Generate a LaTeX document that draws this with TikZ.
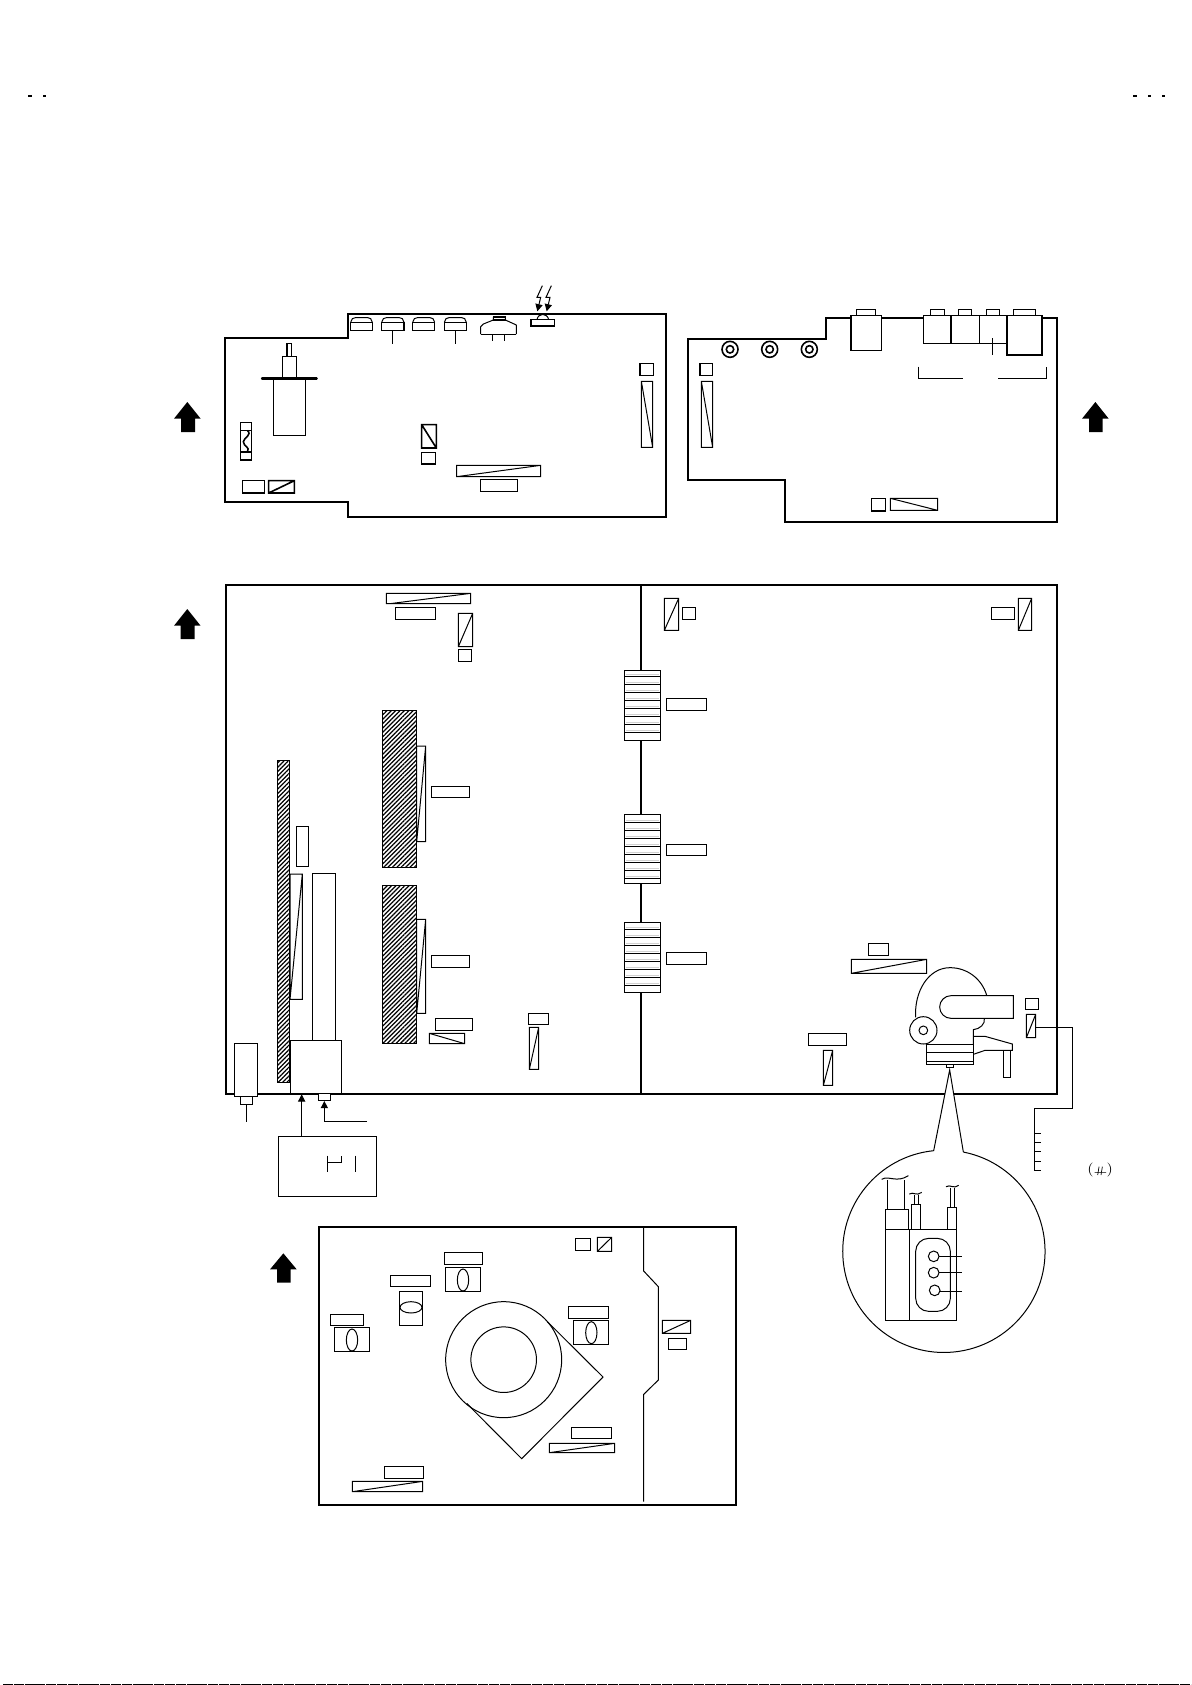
\documentclass[tikz,border=0pt]{standalone}
\usetikzlibrary{arrows.meta,patterns.meta}
\tikzset{
  zm/.style 2 args={shift={({#1*0.5pt},{-#2*0.5pt})},x=0.166667pt,y=-0.166667pt},
  brd/.style={draw=black,line width=1.05pt,line join=miter},
  thk/.style={draw=black,line width=0.8pt},
  thn/.style={draw=black,line width=0.5pt},
  wthk/.style={thk,fill=white},
  wthn/.style={thn,fill=white},
  hatched/.style={thn,pattern={Lines[angle=45,distance=1.55pt,line width=0.62pt]},pattern color=black},
  tipb/.style={-{Triangle[length=3.6pt,width=3.6pt]}},
}
\begin{document}
\begin{tikzpicture}[x=0.5pt,y=-0.5pt]
\useasboundingbox (0,0) rectangle (1191,1685);
\fill[white] (0,0) rectangle (1191,1685);
% page marks
\draw[line width=0.6pt] (28,96)--(32,96) (43,96)--(46,96) (1133,96)--(1137,96) (1148,96)--(1151,96) (1162,96)--(1165,96);
\draw[line width=0.5pt,dash pattern=on 5pt off 0.4pt] (3,1684.4)--(1191,1684.4);

% ---------- top left board
\begin{scope}[zm={160}{270}]
\draw[brd] (195,203)--(563,203)--(563,131)--(1517,131)--(1517,742)--(563,742)--(563,697)--(195,697)--cycle;
\fill[black] (82,396)--(122,446)--(105,446)--(105,486)--(63,486)--(63,446)--(42,446)--cycle;
\foreach \a/\b in {572/637,665/732,758/824,853/919}{
  \draw[thn] (\a,157)--(\a+5,146)--(\a+14,143)--(\b-14,143)--(\b-5,146)--(\b,157);
  \draw[wthk] (\a,157) rectangle (\b,181);
}
\draw[thn] (697,181)--(697,222) (886,181)--(886,222);
\draw[thn,line join=round] (962,192)--(962,170)--(970,162)--(1000,150)--(1000,141)--(1036,141)--(1036,150)--(1069,165)--(1069,192);
\draw[thn] (962,192)--(1069,192) (997,192)--(997,214) (1033,192)--(1033,214);
\draw[thk] (1000,141) rectangle (1036,150);
\draw[thn] (1131,149) .. controls (1134,128) and (1162,128) .. (1166,149);
\draw[wthk] (1113,149) rectangle (1183,168);
\draw[thn,tipb] (1147,47)--(1131,82)--(1142,82)--(1132,124);
\draw[thn,tipb] (1174,47)--(1158,82)--(1170,82)--(1160,124);
\draw[thk] (381,220) rectangle (395,260) (367,260) rectangle (409,325) (341,325) rectangle (436,497);
\draw[line width=1.2pt,line cap=round] (306,325)--(470,325);
\draw[thk] (242,458) rectangle (275,570) (242,481)--(275,481) (242,546)--(275,546);
\draw[thk] (262,481) .. controls (278,495) and (250,505) .. (250,515) .. controls (250,530) and (272,530) .. (262,546);
\draw[thk] (785,464) rectangle (829,534) (785,464)--(829,534);
\draw[thk] (785,548) rectangle (826,582);
\draw[thn] (890,586) rectangle (1142,620) (890,620)--(1142,586);
\draw[thn] (961,628) rectangle (1073,665);
\draw[thk] (248,632) rectangle (313,669);
\draw[thk] (326,632) rectangle (403,669) (326,669)--(403,632);
\draw[thk] (1440,281) rectangle (1480,316);
\draw[thn] (1444,334) rectangle (1478,532) (1444,334)--(1478,532);
\end{scope}

% ---------- top right board
\begin{scope}[zm={670}{270}]
\draw[brd] (53,207)--(468,207)--(468,145)--(1161,145)--(1161,755)--(344,755)--(344,630)--(53,630)--cycle;
\fill[black] (1276,396)--(1316,446)--(1298,446)--(1298,486)--(1257,486)--(1257,446)--(1236,446)--cycle;
\draw[wthk] (559,119) rectangle (617,137);
\draw[wthk] (543,137) rectangle (634,241);
\draw[wthk] (782,119) rectangle (824,137);
\draw[wthk] (866,119) rectangle (905,137);
\draw[wthk] (950,119) rectangle (989,137);
\draw[wthk] (1031,119) rectangle (1097,137);
\draw[wthk] (761,137) rectangle (843,221);
\draw[wthk] (845,137) rectangle (928,221);
\draw[wthk] (929,137) rectangle (1011,221);
\draw[wthk] (1011,137) rectangle (1116,255);
\draw[thn] (967,205)--(967,256);
\draw[thn] (746,290)--(746,325)--(878,325) (985,325)--(1130,325)--(1130,290);
\foreach \a in {180,299,418}{
  \draw[thk] (\a,238) circle[radius=4pt];
  \draw[thk] (\a,238) circle[radius=1.85pt];
}
\draw[thk] (90,281) rectangle (127,316);
\draw[thn] (94,334) rectangle (128,532) (94,334)--(128,532);
\draw[thk] (605,686) rectangle (646,723);
\draw[thn] (661,685) rectangle (803,721) (661,685)--(803,721);
\end{scope}

% ---------- main board
\draw[brd] (226,585) rectangle (1057,1093.7);
\draw[brd] (641,585)--(641,1093.7);
\begin{scope}[shift={(187.3,609)}]
\fill[black] (0,0)--(13.3,16.7)--(7.3,16.7)--(7.3,30)--(-6.7,30)--(-6.7,16.7)--(-13.3,16.7)--cycle;
\end{scope}
\begin{scope}[zm={360}{580}]
\draw[thn] (79,40) rectangle (332,71) (90,71)--(332,40);
\draw[thn] (106,82) rectangle (227,119);
\draw[thn] (295,100) rectangle (338,200) (295,200)--(338,100);
\draw[thn] (295,208) rectangle (335,245);
\draw[thn] (913,55) rectangle (956,151) (913,151)--(956,55);
\draw[thn] (967,82) rectangle (1007,119);
\draw[hatched] (67,391) rectangle (170,862);
\draw[thn] (170,498) rectangle (197,785) (197,498)--(170,785);
\draw[thn] (214,619) rectangle (329,653);
\draw[wthn] (793,271) rectangle (902,481);
\foreach \y in {289,313,337,361,385,409,433,457}{
  \draw[black!18,line width=0.3pt] (797,\y-5)--(898,\y-5);
  \draw[thn] (793,\y)--(902,\y);
}
\draw[thn] (919,355) rectangle (1040,392);
\end{scope}
\begin{scope}[zm={960}{580}]
\draw[thn] (94,82) rectangle (164,119);
\draw[thn] (175,55) rectangle (215,151) (175,151)--(215,55);
\end{scope}
\begin{scope}[zm={600}{780}]
\draw[wthn] (73,103) rectangle (182,311);
\foreach \y in {127,151,175,199,223,247,271,295}{
  \draw[black!18,line width=0.3pt] (77,\y-5)--(178,\y-5);
  \draw[thn] (73,\y)--(182,\y);
}
\draw[thn] (199,193) rectangle (320,227);
\draw[wthn] (73,427) rectangle (182,637);
\foreach \y in {448,472,496,520,544,568,592,616}{
  \draw[black!18,line width=0.3pt] (77,\y-5)--(178,\y-5);
  \draw[thn] (73,\y)--(182,\y);
}
\draw[thn] (199,517) rectangle (320,553);
\end{scope}
\begin{scope}[zm={260}{740}]
\draw[hatched] (53,62) rectangle (88,1027);
\draw[thn] (109,260) rectangle (145,380);
\draw[thn] (90,402) rectangle (127,778) (127,402)--(90,778);
\draw[thn] (157,400) rectangle (226,901);
\end{scope}
\begin{scope}[zm={170}{880}]
\draw[hatched] (637,16) rectangle (740,490);
\draw[thn] (740,118) rectangle (767,400) (767,118)--(740,400);
\draw[thn] (784,226) rectangle (899,263);
\draw[thn] (796,415) rectangle (908,452);
\draw[thn] (778,460) rectangle (884,491) (778,460)--(884,491);
\draw[thn] (1075,400) rectangle (1136,434);
\draw[thn] (1078,442) rectangle (1106,568) (1106,442)--(1078,568);
\draw[wthn] (361,481) rectangle (515,641);
\draw[wthn] (193,490) rectangle (263,650);
\draw[wthn] (211,650) rectangle (248,674);
\draw[thn] (229,674)--(229,726);
\draw[wthn] (446,641) rectangle (482,662);
\draw[thn,tipb] (395,769)--(395,643);
\draw[thn,tipb] (591,724)--(463,724)--(463,663);
\draw[thn] (325,769) rectangle (620,949);
\draw[thn] (472,827)--(472,876) (472,847)--(515,847)--(515,827) (556,827)--(556,876);
\end{scope}

\begin{scope}[zm={800}{920}]
\draw[thn] (205,70) rectangle (266,107);
\draw[thn] (154,118) rectangle (380,160) (154,160)--(380,118);
\draw[thn] (25,340) rectangle (140,377);
\draw[thn] (70,391) rectangle (98,496) (70,496)--(98,391);
\draw[thn] (676,235) rectangle (716,269);
\draw[thn] (679,283) rectangle (707,353) (679,353)--(707,283);
\draw[thn] (707,321)--(817,321)--(817,564)--(702,564)--(702,751)--(724,751);
\draw[thn] (702,639)--(724,639) (702,667)--(724,667) (702,695)--(724,695) (702,723)--(724,723);
% symbol in parentheses
\node[inner sep=0pt,font=\fontsize{7pt}{7pt}\selectfont] (paren) at (900,751) {(\hspace{6.5pt})};
\draw[line width=0.35pt] (884,757)--(918,757) (897,740)--(893,765) (907,740)--(903,765);
% head shape
\draw[thn] (553,295) .. controls (556,312) and (540,327) .. (520,329) -- (520,373);
\draw[thn] (347,292) .. controls (342,215) and (385,143) .. (450,143) .. controls (500,143) and (545,175) .. (560,226);
\draw[thn] (640,227)--(453,227) arc[start angle=90,end angle=270,radius=5.67pt]--(640,295)--cycle;
\draw[wthn] (370,331) circle[radius=6.83pt];
\draw[thn] (370,331) circle[radius=2.17pt];
\draw[thn] (520,349)--(555,349)--(637,372)--(637,391)--(555,391)--(520,403);
\draw[thn] (611,391) rectangle (632,473);
\draw[thn] (380,373) rectangle (521,432) (380,397)--(521,397) (380,425)--(521,425);
\draw[thn] (439,433) rectangle (461,442);
% callout
\draw[wthn] (490,696)--(449,450)--(401,692) arc[start angle=95.8,end angle=438.9,radius=50.58pt];
% inside callout
\draw[thn] (256,928) rectangle (328,1201) (328,928) rectangle (469,1201);
\draw[thn] (256,868) rectangle (324,928);
\draw[thn] (262,780)--(262,868) (314,780)--(314,868);
\draw[thn] (245,778) .. controls (265,765) and (290,790) .. (325,767);
\draw[thn] (333,853) rectangle (361,928);
\draw[thn] (342,826)--(342,853) (354,826)--(354,853);
\draw[thn] (328,822) .. controls (340,814) and (350,830) .. (365,817);
\draw[thn] (443,861) rectangle (469,928);
\draw[thn] (451,803)--(451,861) (463,803)--(463,861);
\draw[thn] (438,800) .. controls (450,792) and (462,808) .. (476,796);
\draw[thn,rounded corners=6.5pt] (347,955) rectangle (451,1174);
\draw[thn] (401,1009) circle[radius=2.67pt];
\draw[thn] (401,1058) circle[radius=2.67pt];
\draw[thn] (404,1111) circle[radius=2.67pt];
\draw[thn] (417,1009)--(486,1009) (417,1057)--(486,1057) (420,1113)--(486,1113);
\end{scope}

% ---------- bottom board
\begin{scope}[zm={260}{1210}]
\fill[black] (70,130)--(110,178)--(92,178)--(92,218)--(51,218)--(51,178)--(30,178)--cycle;
\draw[brd] (177,51) rectangle (1428,884);
\draw[thn] (1151,51)--(1151,183)--(1195,230)--(1195,510)--(1151,553)--(1151,875);
\draw[thn] (946,85) rectangle (992,122);
\draw[thn] (1012,82) rectangle (1055,124) (1012,124)--(1055,82);
\draw[thn] (553,127) rectangle (667,164);
\draw[thn] (556,172) rectangle (661,243);
\draw[thn] (609,210) ellipse[x radius=2.83pt,y radius=5.5pt];
\draw[thn] (391,196) rectangle (512,230);
\draw[thn] (418,244) rectangle (488,346);
\draw[thn] (453,292) ellipse[x radius=5.5pt,y radius=2.83pt];
\draw[thn] (211,313) rectangle (311,347);
\draw[thn] (223,352) rectangle (328,424);
\draw[thn] (276,390) ellipse[x radius=2.83pt,y radius=5.5pt];
\draw[thn] (925,289) rectangle (1046,326);
\draw[thn] (939,332) rectangle (1045,403);
\draw[thn] (994,368) ellipse[x radius=2.83pt,y radius=5.5pt];
\draw[thn] (1207,331) rectangle (1292,370) (1207,370)--(1292,331);
\draw[thn] (1225,385) rectangle (1280,418);
\draw[thn] (731,449) circle[radius=29pt];
\draw[thn] (731,449) circle[radius=16.4pt];
\draw[thn] (862,335)--(1029,501)--(785,746)--(620,580);
\draw[thn] (934,652) rectangle (1055,686);
\draw[thn] (868,700) rectangle (1064,728) (868,728)--(1064,700);
\draw[thn] (373,769) rectangle (491,806);
\draw[thn] (277,814) rectangle (488,845) (277,845)--(488,814);
\end{scope}
\end{tikzpicture}
\end{document}
